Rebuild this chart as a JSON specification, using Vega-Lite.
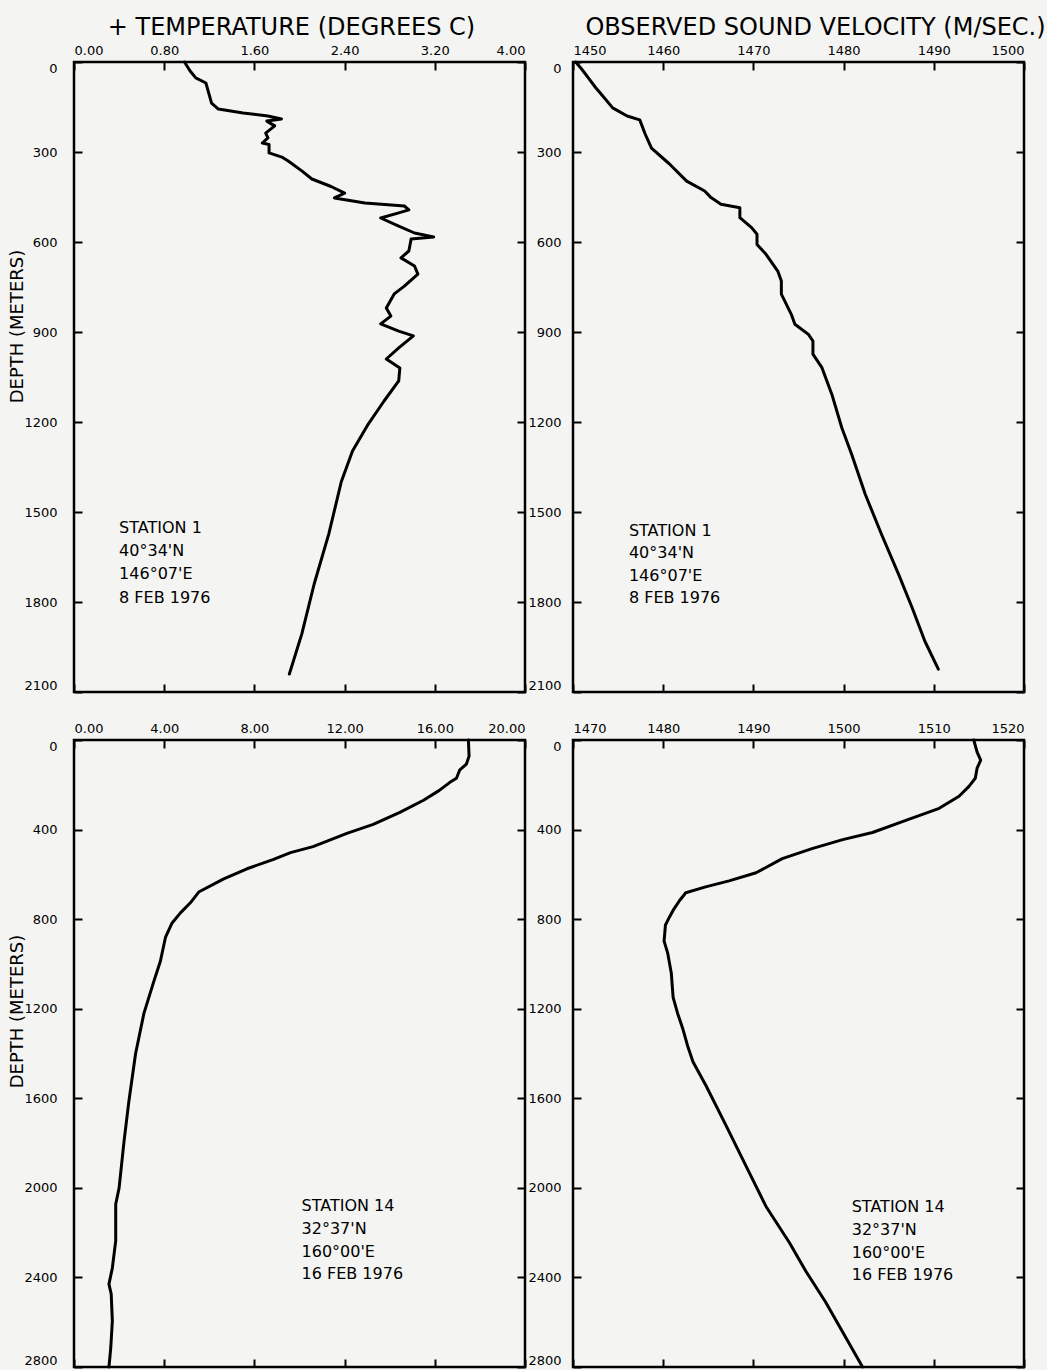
{
  "$schema": "https://vega.github.io/schema/vega-lite/v6.json",
  "background": "#f4f4f2",
  "padding": {"left": 6, "top": 13, "right": 0, "bottom": 0},
  "autosize": {"type": "pad"},
  "columns": 2,
  "spacing": 48,
  "bounds": "flush",
  "config": {
    "font": "DejaVu Sans",
    "view": {"stroke": "black", "strokeWidth": 2.5, "fill": null},
    "axis": {
      "grid": false, "domain": false,
      "tickColor": "black", "tickWidth": 2, "tickSize": -8,
      "labelColor": "black", "labelFont": "DejaVu Sans", "labelFontSize": 13,
      "titleColor": "black", "titleFont": "DejaVu Sans", "titleFontWeight": "normal"
    },
    "text": {"font": "DejaVu Sans"}
  },
  "datasets": {
    "st1_temp": [
      {"v": 0.98, "d": 0}, {"v": 1.03, "d": 30}, {"v": 1.08, "d": 53}, {"v": 1.17, "d": 70},
      {"v": 1.19, "d": 97}, {"v": 1.22, "d": 137}, {"v": 1.28, "d": 157}, {"v": 1.50, "d": 170},
      {"v": 1.72, "d": 180}, {"v": 1.84, "d": 190}, {"v": 1.71, "d": 197}, {"v": 1.78, "d": 213},
      {"v": 1.70, "d": 237}, {"v": 1.72, "d": 253}, {"v": 1.67, "d": 270}, {"v": 1.73, "d": 275},
      {"v": 1.73, "d": 303}, {"v": 1.85, "d": 318}, {"v": 1.90, "d": 330}, {"v": 2.02, "d": 363},
      {"v": 2.11, "d": 390}, {"v": 2.28, "d": 415}, {"v": 2.40, "d": 437}, {"v": 2.31, "d": 453},
      {"v": 2.58, "d": 470}, {"v": 2.93, "d": 480}, {"v": 2.97, "d": 493}, {"v": 2.88, "d": 503},
      {"v": 2.72, "d": 520}, {"v": 2.88, "d": 547}, {"v": 3.02, "d": 570}, {"v": 3.19, "d": 583},
      {"v": 2.99, "d": 590}, {"v": 2.97, "d": 630}, {"v": 2.90, "d": 653}, {"v": 3.02, "d": 680},
      {"v": 3.05, "d": 707}, {"v": 2.93, "d": 747}, {"v": 2.84, "d": 773}, {"v": 2.77, "d": 820},
      {"v": 2.81, "d": 847}, {"v": 2.72, "d": 873}, {"v": 2.88, "d": 897}, {"v": 3.01, "d": 913},
      {"v": 2.88, "d": 953}, {"v": 2.77, "d": 990}, {"v": 2.89, "d": 1020}, {"v": 2.88, "d": 1063},
      {"v": 2.75, "d": 1130}, {"v": 2.61, "d": 1207}, {"v": 2.47, "d": 1297}, {"v": 2.37, "d": 1400},
      {"v": 2.26, "d": 1573}, {"v": 2.13, "d": 1740}, {"v": 2.02, "d": 1907}, {"v": 1.91, "d": 2040}
    ],
    "st1_vel": [
      {"v": 1450.3, "d": 0}, {"v": 1451.0, "d": 25}, {"v": 1451.7, "d": 53}, {"v": 1452.5, "d": 85},
      {"v": 1453.3, "d": 113}, {"v": 1454.4, "d": 153}, {"v": 1456.0, "d": 180}, {"v": 1457.4, "d": 193},
      {"v": 1458.0, "d": 240}, {"v": 1458.7, "d": 287}, {"v": 1460.7, "d": 340}, {"v": 1462.6, "d": 397},
      {"v": 1464.6, "d": 430}, {"v": 1465.3, "d": 452}, {"v": 1466.4, "d": 474}, {"v": 1468.5, "d": 486},
      {"v": 1468.5, "d": 519}, {"v": 1469.8, "d": 552}, {"v": 1470.4, "d": 574}, {"v": 1470.4, "d": 608},
      {"v": 1471.4, "d": 641}, {"v": 1472.7, "d": 697}, {"v": 1473.1, "d": 730}, {"v": 1473.1, "d": 774},
      {"v": 1474.2, "d": 841}, {"v": 1474.6, "d": 874}, {"v": 1476.1, "d": 908}, {"v": 1476.6, "d": 930},
      {"v": 1476.6, "d": 974}, {"v": 1477.6, "d": 1019}, {"v": 1478.7, "d": 1108}, {"v": 1479.8, "d": 1219},
      {"v": 1480.9, "d": 1308}, {"v": 1482.4, "d": 1441}, {"v": 1484.2, "d": 1574}, {"v": 1486.1, "d": 1708},
      {"v": 1487.6, "d": 1819}, {"v": 1489.0, "d": 1930}, {"v": 1490.5, "d": 2024}
    ],
    "st14_temp": [
      {"v": 17.49, "d": 0}, {"v": 17.52, "d": 72}, {"v": 17.4, "d": 108}, {"v": 17.1, "d": 135},
      {"v": 16.96, "d": 171}, {"v": 16.67, "d": 189}, {"v": 16.2, "d": 225}, {"v": 15.5, "d": 269},
      {"v": 14.45, "d": 323}, {"v": 13.27, "d": 377}, {"v": 12.1, "d": 417}, {"v": 10.6, "d": 476},
      {"v": 9.6, "d": 503}, {"v": 8.85, "d": 533}, {"v": 7.67, "d": 575}, {"v": 6.64, "d": 620},
      {"v": 5.53, "d": 679}, {"v": 5.16, "d": 727}, {"v": 4.72, "d": 772}, {"v": 4.35, "d": 817},
      {"v": 4.06, "d": 880}, {"v": 3.83, "d": 988}, {"v": 3.54, "d": 1078}, {"v": 3.10, "d": 1221},
      {"v": 2.73, "d": 1401}, {"v": 2.43, "d": 1616}, {"v": 2.22, "d": 1791}, {"v": 2.0, "d": 2000},
      {"v": 1.85, "d": 2073}, {"v": 1.85, "d": 2237}, {"v": 1.70, "d": 2358}, {"v": 1.55, "d": 2430},
      {"v": 1.65, "d": 2474}, {"v": 1.70, "d": 2595}, {"v": 1.63, "d": 2715}, {"v": 1.55, "d": 2800}
    ],
    "st14_vel": [
      {"v": 1514.43, "d": 0}, {"v": 1514.8, "d": 54}, {"v": 1515.2, "d": 90}, {"v": 1514.8, "d": 126},
      {"v": 1514.6, "d": 171}, {"v": 1513.9, "d": 207}, {"v": 1512.8, "d": 251}, {"v": 1510.6, "d": 305},
      {"v": 1506.9, "d": 359}, {"v": 1503.2, "d": 413}, {"v": 1499.9, "d": 445}, {"v": 1496.5, "d": 485},
      {"v": 1493.2, "d": 530}, {"v": 1490.3, "d": 593}, {"v": 1487.3, "d": 629}, {"v": 1484.7, "d": 656},
      {"v": 1482.5, "d": 682}, {"v": 1481.8, "d": 718}, {"v": 1481.2, "d": 754}, {"v": 1480.7, "d": 790},
      {"v": 1480.25, "d": 826}, {"v": 1480.1, "d": 898}, {"v": 1480.5, "d": 952}, {"v": 1480.9, "d": 1042},
      {"v": 1481.1, "d": 1149}, {"v": 1481.6, "d": 1221}, {"v": 1482.2, "d": 1293}, {"v": 1482.7, "d": 1365},
      {"v": 1483.3, "d": 1437}, {"v": 1484.75, "d": 1544}, {"v": 1487.0, "d": 1724}, {"v": 1489.2, "d": 1904},
      {"v": 1491.4, "d": 2083}, {"v": 1494.0, "d": 2245}, {"v": 1495.8, "d": 2371}, {"v": 1498.0, "d": 2510},
      {"v": 1502.1, "d": 2800}
    ],
    "st1_temp_text": [
      {"v": 0.40, "d": 1553, "label": "STATION 1"},
      {"v": 0.40, "d": 1630, "label": "40°34'N"},
      {"v": 0.40, "d": 1707, "label": "146°07'E"},
      {"v": 0.40, "d": 1785, "label": "8 FEB 1976"}
    ],
    "st1_vel_text": [
      {"v": 1456.2, "d": 1563, "label": "STATION 1"},
      {"v": 1456.2, "d": 1637, "label": "40°34'N"},
      {"v": 1456.2, "d": 1713, "label": "146°07'E"},
      {"v": 1456.2, "d": 1785, "label": "8 FEB 1976"}
    ],
    "st14_temp_text": [
      {"v": 10.09, "d": 2080, "label": "STATION 14"},
      {"v": 10.09, "d": 2183, "label": "32°37'N"},
      {"v": 10.09, "d": 2285, "label": "160°00'E"},
      {"v": 10.09, "d": 2385, "label": "16 FEB 1976"}
    ],
    "st14_vel_text": [
      {"v": 1500.9, "d": 2085, "label": "STATION 14"},
      {"v": 1500.9, "d": 2188, "label": "32°37'N"},
      {"v": 1500.9, "d": 2290, "label": "160°00'E"},
      {"v": 1500.9, "d": 2390, "label": "16 FEB 1976"}
    ]
  },
  "concat": [
    {
      "width": 451, "height": 630,
      "layer": [
        {
          "data": {"name": "st1_temp"},
          "mark": {"type": "line", "color": "black", "strokeWidth": 3, "strokeJoin": "round", "strokeCap": "round"},
          "encoding": {
            "x": {"field": "v", "type": "quantitative", "scale": {"domain": [0, 4], "nice": false, "zero": false},
                  "axis": {"orient": "top", "values": [0, 0.8, 1.6, 2.4, 3.2, 4], "format": ".2f", "labelPadding": 13,
                           "title": "+ TEMPERATURE (DEGREES C)", "titleFontSize": 24, "titleX": 217, "titleY": -28,
                           "titleBaseline": "alphabetic", "titleAlign": "center", "titleAngle": 0}},
            "y": {"field": "d", "type": "quantitative", "scale": {"domain": [0, 2100], "nice": false, "zero": false, "reverse": true},
                  "axis": {"orient": "left", "values": [0, 300, 600, 900, 1200, 1500, 1800, 2100], "format": "d", "labelPadding": 25, "labelFlush": true,
                           "title": "DEPTH (METERS)", "titleFontSize": 18, "titleX": -57, "titleY": 264,
                           "titleAngle": 270, "titleBaseline": "middle", "titleAlign": "center"}},
            "order": {"field": "d", "type": "quantitative"}
          }
        },
        {
          "data": {"name": "st1_temp_text"},
          "mark": {"type": "text", "align": "left", "baseline": "middle", "fontSize": 16, "color": "black"},
          "encoding": {
            "x": {"field": "v", "type": "quantitative", "scale": {"domain": [0, 4], "nice": false, "zero": false},
                  "axis": {"orient": "bottom", "values": [0, 0.8, 1.6, 2.4, 3.2, 4], "labels": false, "title": null}},
            "y": {"field": "d", "type": "quantitative", "scale": {"domain": [0, 2100], "nice": false, "zero": false, "reverse": true},
                  "axis": {"orient": "right", "values": [0, 300, 600, 900, 1200, 1500, 1800, 2100], "labels": false, "title": null}},
            "text": {"field": "label"}
          }
        }
      ]
    },
    {
      "width": 451, "height": 630,
      "layer": [
        {
          "data": {"name": "st1_vel"},
          "mark": {"type": "line", "color": "black", "strokeWidth": 3, "strokeJoin": "round", "strokeCap": "round"},
          "encoding": {
            "x": {"field": "v", "type": "quantitative", "scale": {"domain": [1450, 1500], "nice": false, "zero": false},
                  "axis": {"orient": "top", "values": [1450, 1460, 1470, 1480, 1490, 1500], "format": "d", "labelPadding": 13,
                           "title": "OBSERVED SOUND VELOCITY (M/SEC.)", "titleFontSize": 24, "titleX": 242, "titleY": -28,
                           "titleBaseline": "alphabetic", "titleAlign": "center", "titleAngle": 0}},
            "y": {"field": "d", "type": "quantitative", "scale": {"domain": [0, 2100], "nice": false, "zero": false, "reverse": true},
                  "axis": {"orient": "left", "values": [0, 300, 600, 900, 1200, 1500, 1800, 2100], "format": "d", "labelPadding": 20, "labelFlush": true, "title": null}},
            "order": {"field": "d", "type": "quantitative"}
          }
        },
        {
          "data": {"name": "st1_vel_text"},
          "mark": {"type": "text", "align": "left", "baseline": "middle", "fontSize": 16, "color": "black"},
          "encoding": {
            "x": {"field": "v", "type": "quantitative", "scale": {"domain": [1450, 1500], "nice": false, "zero": false},
                  "axis": {"orient": "bottom", "values": [1450, 1460, 1470, 1480, 1490, 1500], "labels": false, "title": null}},
            "y": {"field": "d", "type": "quantitative", "scale": {"domain": [0, 2100], "nice": false, "zero": false, "reverse": true},
                  "axis": {"orient": "right", "values": [0, 300, 600, 900, 1200, 1500, 1800, 2100], "labels": false, "title": null}},
            "text": {"field": "label"}
          }
        }
      ]
    },
    {
      "width": 451, "height": 627,
      "layer": [
        {
          "data": {"name": "st14_temp"},
          "mark": {"type": "line", "color": "black", "strokeWidth": 3, "strokeJoin": "round", "strokeCap": "round"},
          "encoding": {
            "x": {"field": "v", "type": "quantitative", "scale": {"domain": [0, 20], "nice": false, "zero": false},
                  "axis": {"orient": "top", "values": [0, 4, 8, 12, 16, 20], "format": ".2f", "labelPadding": 13, "title": null}},
            "y": {"field": "d", "type": "quantitative", "scale": {"domain": [0, 2800], "nice": false, "zero": false, "reverse": true},
                  "axis": {"orient": "left", "values": [0, 400, 800, 1200, 1600, 2000, 2400, 2800], "format": "d", "labelPadding": 25, "labelFlush": true,
                           "title": "DEPTH (METERS)", "titleFontSize": 18, "titleX": -57, "titleY": 271,
                           "titleAngle": 270, "titleBaseline": "middle", "titleAlign": "center"}},
            "order": {"field": "d", "type": "quantitative"}
          }
        },
        {
          "data": {"name": "st14_temp_text"},
          "mark": {"type": "text", "align": "left", "baseline": "middle", "fontSize": 16, "color": "black"},
          "encoding": {
            "x": {"field": "v", "type": "quantitative", "scale": {"domain": [0, 20], "nice": false, "zero": false},
                  "axis": {"orient": "bottom", "values": [0, 4, 8, 12, 16, 20], "labels": false, "title": null}},
            "y": {"field": "d", "type": "quantitative", "scale": {"domain": [0, 2800], "nice": false, "zero": false, "reverse": true},
                  "axis": {"orient": "right", "values": [0, 400, 800, 1200, 1600, 2000, 2400, 2800], "labels": false, "title": null}},
            "text": {"field": "label"}
          }
        }
      ]
    },
    {
      "width": 451, "height": 627,
      "layer": [
        {
          "data": {"name": "st14_vel"},
          "mark": {"type": "line", "color": "black", "strokeWidth": 3, "strokeJoin": "round", "strokeCap": "round"},
          "encoding": {
            "x": {"field": "v", "type": "quantitative", "scale": {"domain": [1470, 1520], "nice": false, "zero": false},
                  "axis": {"orient": "top", "values": [1470, 1480, 1490, 1500, 1510, 1520], "format": "d", "labelPadding": 13, "title": null}},
            "y": {"field": "d", "type": "quantitative", "scale": {"domain": [0, 2800], "nice": false, "zero": false, "reverse": true},
                  "axis": {"orient": "left", "values": [0, 400, 800, 1200, 1600, 2000, 2400, 2800], "format": "d", "labelPadding": 20, "labelFlush": true, "title": null}},
            "order": {"field": "d", "type": "quantitative"}
          }
        },
        {
          "data": {"name": "st14_vel_text"},
          "mark": {"type": "text", "align": "left", "baseline": "middle", "fontSize": 16, "color": "black"},
          "encoding": {
            "x": {"field": "v", "type": "quantitative", "scale": {"domain": [1470, 1520], "nice": false, "zero": false},
                  "axis": {"orient": "bottom", "values": [1470, 1480, 1490, 1500, 1510, 1520], "labels": false, "title": null}},
            "y": {"field": "d", "type": "quantitative", "scale": {"domain": [0, 2800], "nice": false, "zero": false, "reverse": true},
                  "axis": {"orient": "right", "values": [0, 400, 800, 1200, 1600, 2000, 2400, 2800], "labels": false, "title": null}},
            "text": {"field": "label"}
          }
        }
      ]
    }
  ]
}
